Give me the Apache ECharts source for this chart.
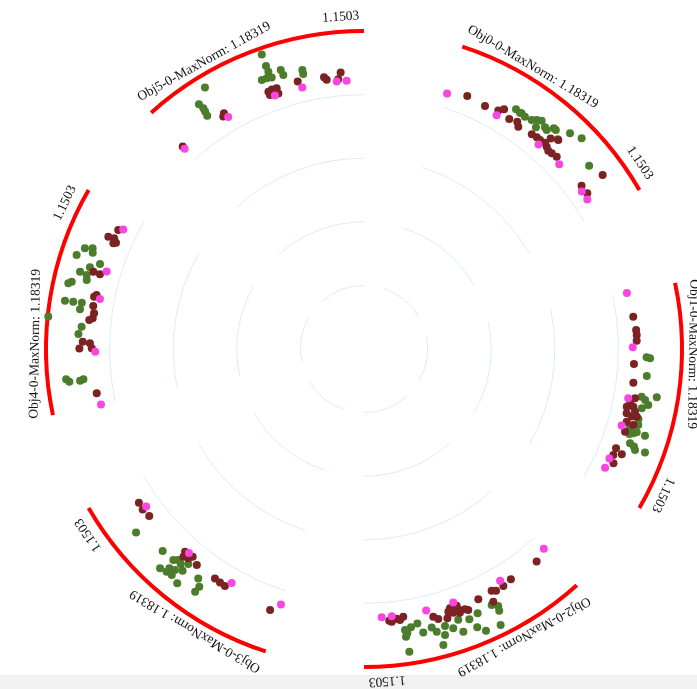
<!DOCTYPE html>
<html>
<head>
<meta charset="utf-8">
<script src="https://cdn.jsdelivr.net/npm/echarts@6/dist/echarts.min.js"></script>
<style>
  html, body { margin: 0; padding: 0; background: #ffffff; }
  #chart { width: 697px; height: 689px; }
</style>
</head>
<body>
<div id="chart"></div>
<script>
// Objectives, one per ring sector (clockwise from the top-right)
const objectives = ['Obj0', 'Obj1', 'Obj2', 'Obj3', 'Obj4', 'Obj5'];
const maxNorm = 1.18319;      // outer radius value of every sector
const angleMax = 1.1503;      // value at the clockwise end of every sector
const maxNormText = '1.18319';
const angleMaxText = '1.1503';

// Points: [angle value, normalised value]
const obj0Green = [[0.394,1.056],[0.423,1.053],[0.432,1.055],[0.458,1.051],[0.499,1.056],[0.521,1.067],[0.545,1.076],[0.542,1.044],[0.581,1.065],[0.598,1.061],[0.622,1.083],[0.636,1.083],[0.703,1.110],[0.765,1.127],[0.677,1.062],[0.900,1.080]];
const obj0Maroon = [[0.115,1.017],[0.232,1.010],[0.312,1.018],[0.337,1.033],[0.391,1.012],[0.438,1.020],[0.459,1.007],[0.548,1.014],[0.581,1.017],[0.605,1.017],[0.637,1.021],[0.660,1.014],[0.682,1.007],[0.707,1.009],[0.741,1.013],[0.682,1.062],[0.645,1.047],[0.962,1.012],[1.016,1.013],[0.983,1.099]];
const obj0Pink = [[0,1],[0.317,1],[0.616,1],[0.783,1],[0.990,1],[1.046,1]];

const obj1Green = [[0.375,1.052],[0.380,1.065],[0.478,1.057],[0.596,1.048],[0.610,1.063],[0.634,1.078],[0.585,1.104],[0.659,1.057],[0.775,1.031],[0.722,1.054],[0.753,1.059],[0.805,1.050],[0.794,1.061],[0.798,1.094],[0.815,1.037],[0.863,1.050],[0.873,1.068],[0.888,1.076],[0.882,1.114]];
const obj1Maroon = [[0.141,1.009],[0.219,1.015],[0.248,1.016],[0.281,1.015],[0.416,1.006],[0.524,1.010],[0.635,1.009],[0.611,1.025],[0.668,1.001],[0.660,1.025],[0.705,1.006],[0.717,1.027],[0.710,1.046],[0.686,1.035],[0.752,1.014],[0.760,1.041],[0.810,1.019],[0.918,1.008],[0.937,1.036],[0.960,1.008],[1.003,1.021]];
const obj1Pink = [[0,1],[0.319,1],[0.618,1],[0.782,1],[0.987,1],[1.047,1]];

const obj2Green = [[0.424,1.064],[0.395,1.079],[0.402,1.096],[0.513,1.070],[0.429,1.146],[0.509,1.142],[0.544,1.118],[0.567,1.079],[0.620,1.115],[0.625,1.067],[0.665,1.091],[0.717,1.106],[0.704,1.074],[0.739,1.140],[0.755,1.086],[0.776,1.066],[0.827,1.078],[0.849,1.040],[0.888,1.050],[0.923,1.057],[0.923,1.082],[0.913,1.070],[0.917,1.139]];
const obj2Maroon = [[0.080,1.019],[0.259,1.016],[0.316,1.023],[0.388,1.017],[0.366,1.025],[0.408,1.056],[0.478,1.024],[0.607,1.016],[0.648,1.016],[0.663,1.027],[0.601,1.034],[0.570,1.039],[0.554,1.046],[0.603,1.044],[0.638,1.036],[0.679,1.049],[0.729,1.042],[0.753,1.029],[0.922,1.007],[0.943,1.017],[0.961,1.011],[0.991,1.020],[1.005,1.015]];
const obj2Pink = [[0,1],[0.317,1],[0.619,1],[0.784,1],[0.988,1],[1.047,1]];

const obj3Green = [[0.908,1.089],[0.737,1.061],[0.660,1.058],[0.640,1.046],[0.615,1.051],[0.646,1.091],[0.617,1.082],[0.683,1.114],[0.645,1.107],[0.613,1.104],[0.583,1.066],[0.582,1.033],[0.563,1.115],[0.489,1.053],[0.458,1.076],[0.461,1.100]];
const obj3Maroon = [[1.032,1.014],[0.988,1.017],[0.935,1.012],[0.642,1.006],[0.630,1.024],[0.603,1.017],[0.589,1.002],[0.541,1.016],[0.411,1.018],[0.374,1.021],[0.340,1.022],[0.049,1.032]];
const obj3Pink = [[0,1],[0.315,1],[0.620,1],[0.990,1]];

const obj4Green = [[0.872,1.104],[0.886,1.077],[0.864,1.071],[0.825,1.125],[0.818,1.032],[0.783,1.064],[0.738,1.068],[0.746,1.095],[0.711,1.063],[0.684,1.116],[0.672,1.127],[0.580,1.127],[0.582,1.096],[0.584,1.064],[0.547,1.067],[0.489,1.181],[0.452,1.054],[0.411,1.064],[0.170,1.114],[0.155,1.103],[0.154,1.063],[0.160,1.050]];
const obj4Maroon = [[1.036,1.016],[0.978,1.039],[0.983,1.017],[0.964,1.004],[0.955,1.012],[0.765,1.047],[0.761,1.021],[0.629,1.023],[0.641,1.015],[0.576,1.020],[0.535,1.013],[0.506,1.016],[0.494,1.028],[0.369,1.047],[0.332,1.059],[0.361,1.020],[0.333,1.013],[0.071,1.008]];
const obj4Pink = [[0.003,1],[0.313,1],[0.623,1],[0.788,1],[1.051,1]];

const obj5Green = [[0.626,1.160],[0.627,1.114],[0.629,1.091],[0.581,1.071],[0.609,1.070],[0.636,1.067],[0.695,1.083],[0.701,1.063],[0.809,1.063],[0.809,1.048],[0.293,1.139],[0.219,1.098],[0.227,1.077],[0.225,1.063],[0.222,1.046]];
const obj5Maroon = [[0.592,1.021],[0.615,1.025],[0.643,1.023],[0.643,1.003],[0.594,1.008],[0.769,1.025],[0.921,1.022],[0.934,1.011],[1.018,1.032],[1.001,1.008],[0.309,1.020],[0.296,1.011],[0.004,1.011]];
const obj5Pink = [[0.004,1],[0.319,1],[0.620,1],[0.787,1],[0.991,1],[1.049,1]];

const greenSets = [obj0Green, obj1Green, obj2Green, obj3Green, obj4Green, obj5Green];
const maroonSets = [obj0Maroon, obj1Maroon, obj2Maroon, obj3Maroon, obj4Maroon, obj5Maroon];
const pinkSets = [obj0Pink, obj1Pink, obj2Pink, obj3Pink, obj4Pink, obj5Pink];

// Layout of the ring
const CX = 364, CY = 349, R = 318;
const FIRST_START = 18, STEP = 60, SPAN = 42;   // degrees, clockwise from 12 o'clock
const LABEL_FONT = '13.5px "Liberation Serif", "Times New Roman", serif';
const LABEL_R = 333;

const chart = echarts.init(document.getElementById('chart'), null, { renderer: 'canvas' });

const polar = [], angleAxis = [], radiusAxis = [], series = [];
objectives.forEach((name, k) => {
  const s = FIRST_START + STEP * k;
  polar.push({ center: [CX, CY], radius: [0, R] });
  angleAxis.push({
    polarIndex: k, type: 'value', min: 0, max: angleMax,
    startAngle: 90 - s, endAngle: 90 - (s + SPAN), clockwise: true,
    axisLine: { show: true, lineStyle: { color: '#ff0000', width: 4 } },
    axisTick: { show: false }, axisLabel: { show: false }, splitLine: { show: false }
  });
  radiusAxis.push({
    polarIndex: k, type: 'value', min: 0, max: maxNorm, interval: maxNorm / 5,
    axisLine: { show: false }, axisTick: { show: false }, axisLabel: { show: false },
    splitLine: { show: true, lineStyle: { color: '#dcebfc', width: 1 } }
  });
  [[greenSets[k], '#4b7d2c'], [maroonSets[k], '#7b2323'], [pinkSets[k], '#fb45e0']].forEach(([pts, color], g) => {
    series.push({
      type: 'scatter', coordinateSystem: 'polar', polarIndex: k,
      data: pts, encode: { angle: 0, radius: 1 },
      symbolSize: 8, itemStyle: { color: color, opacity: 1 },
      z: 2 + g, silent: true
    });
  });
});

// Curved-axis captions, laid tangent to the ring
const measure = document.createElement('canvas').getContext('2d');
measure.font = LABEL_FONT;
function tangentText(text, fromDeg, alignEnd) {
  const w = measure.measureText(text).width;
  const half = w / 2 / LABEL_R;                    // radians
  const a0 = fromDeg * Math.PI / 180;
  const mid = alignEnd ? a0 - half : a0 + half;
  const rr = LABEL_R * (1 + Math.cos(half)) / 2;
  return {
    type: 'text', silent: true, z: 10,
    x: CX + rr * Math.sin(mid), y: CY - rr * Math.cos(mid),
    rotation: -mid,
    style: { text: text, font: LABEL_FONT, fill: '#111', align: 'center', verticalAlign: 'middle' }
  };
}
const graphic = [{
  type: 'rect', silent: true, z: 0,
  shape: { x: 0, y: 675, width: 697, height: 14 },
  style: { fill: '#f1f1f1' }
}];
objectives.forEach((name, k) => {
  const s = FIRST_START + STEP * k;
  graphic.push(tangentText(name + '-0-MaxNorm: ' + maxNormText, s, false));
  graphic.push(tangentText(angleMaxText, s + SPAN - 0.8, true));
});

chart.setOption({
  animation: false,
  backgroundColor: '#ffffff',
  polar, angleAxis, radiusAxis, series, graphic
});
</script>
</body>
</html>
